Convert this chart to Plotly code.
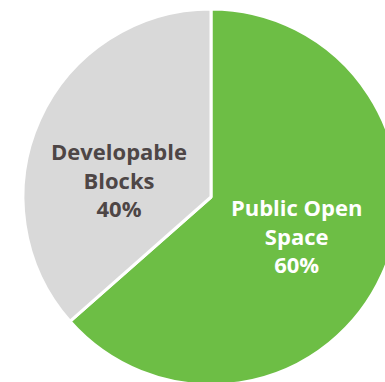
import plotly.graph_objects as go

# Data
categories = ["Public Open<br>Space", "Developable<br>Blocks"]
share_labels = ["60%", "40%"]          # percentages printed on the chart
slice_sizes = [63.5, 36.5]             # wedge sizes as drawn in the picture
colors = ["#6dbe45", "#d9d9d9"]
text_colors = ["#ffffff", "#4e4646"]

W, H = 420, 400
FONT = "Open Sans"

fig = go.Figure(
    go.Pie(
        labels=categories,
        values=slice_sizes,
        customdata=share_labels,
        texttemplate=["%{label}<br>%{customdata}", ""],
        textposition="inside",
        insidetextorientation="horizontal",
        textfont=dict(family=FONT, size=22, color=text_colors, weight="bold"),
        marker=dict(colors=colors, line=dict(color="#ffffff", width=3)),
        sort=False,
        direction="clockwise",
        rotation=0,
        hoverinfo="skip",
        domain=dict(x=[23 / W, 399 / W], y=[(H - 385) / H, (H - 9) / H]),
    )
)

# label of the smaller slice, placed as in the reference
fig.add_annotation(
    x=119 / W, y=(H - 180) / H, xref="paper", yref="paper",
    xanchor="center", yanchor="middle",
    text=f"{categories[1]}<br>{share_labels[1]}",
    showarrow=False, align="center",
    font=dict(family=FONT, size=22, color=text_colors[1], weight="bold"),
)

fig.update_layout(
    width=W,
    height=H,
    margin=dict(l=0, r=0, t=0, b=0),
    showlegend=False,
    paper_bgcolor="#ffffff",
    plot_bgcolor="#ffffff",
)

fig.write_html(
    "out.html",
    config={"displayModeBar": False},
    post_script="document.body.style.margin='0';document.body.style.overflow='hidden';document.documentElement.style.overflow='hidden';",
)
